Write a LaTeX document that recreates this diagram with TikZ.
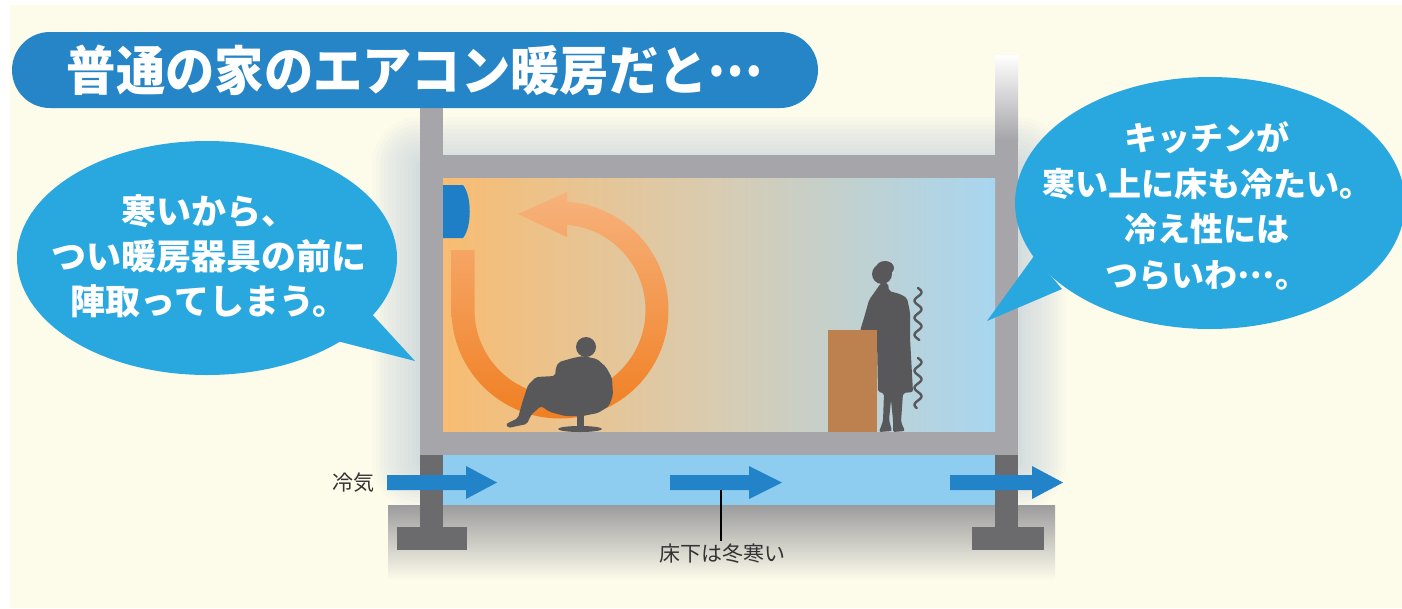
\documentclass[tikz,border=0pt]{standalone}
\usepackage{fontspec}
\newfontfamily\jp{Noto Sans CJK JP}
\newfontfamily\jpnarrow[FakeStretch=0.93]{Noto Sans CJK JP}
\usetikzlibrary{shapes.geometric}
\newcommand{\middots}{\raisebox{0.26em}{…}}
\definecolor{cream}{HTML}{FDFBEA}
\definecolor{titleblue}{HTML}{2585C7}
\definecolor{bubble}{HTML}{29A8E0}
\definecolor{beam}{HTML}{A6A6AA}
\definecolor{footing}{HTML}{6B6B6E}
\definecolor{ufblue}{HTML}{8ECDF0}
\definecolor{airblue}{HTML}{2383C9}
\definecolor{roomL}{HTML}{F8BC72}
\definecolor{roomM}{HTML}{D8CCB2}
\definecolor{roomR}{HTML}{A8D6F0}
\definecolor{acblue}{HTML}{1F7FC6}
\definecolor{shadow}{HTML}{58585A}
\definecolor{counter}{HTML}{BD8150}
\definecolor{warmD}{HTML}{F07F22}
\definecolor{warmL}{HTML}{F7B27C}
\definecolor{glowc}{HTML}{AFC2D8}
\definecolor{groundg}{HTML}{9C9C9E}
\definecolor{labelc}{HTML}{333333}
\tikzset{
  bubbletext/.style={text=white, align=center, font=\jp\bfseries\fontsize{35}{45}\selectfont},
  smalllabel/.style={text=labelc, font=\jp\fontsize{21}{24}\selectfont, inner sep=0pt},
  airarrow/.style={fill=airblue},
  silhouette/.style={fill=shadow, rounded corners=2pt},
}
\begin{document}
\begin{tikzpicture}[x=1pt,y=-1pt]
\useasboundingbox (0,0) rectangle (1402,608);
\fill[white] (0,0) rectangle (1402,608);
\fill[cream] (10,5) rectangle (1402,608);

% soft halo around the house
\foreach \k [evaluate=\k as \d using 4*\k] in {1,...,12}
  \fill[glowc, opacity=0.05, rounded corners=\d pt]
    ({420-\d},{165-\d}) rectangle ({1018+\d},{462+\d});

% ground
\shade[top color=groundg, bottom color=cream] (388,505) rectangle (1055,580);

% posts, beams and room
\fill[beam] (420,100) rectangle (443,455);
\shade[top color=white, bottom color=beam] (995,55) rectangle (1018,140);
\fill[beam] (995,139) rectangle (1018,455);
\fill[beam] (420,155) rectangle (1018,178);
\shade[left color=roomL, right color=roomR, middle color=roomM] (443,178) rectangle (995,432);
\fill[beam] (420,432) rectangle (1018,455);
\fill[ufblue] (443,455) rectangle (995,505);

% foundations
\fill[footing] (420,455) rectangle (443,528);
\fill[footing] (397,527) rectangle (467,550);
\fill[footing] (995,455) rectangle (1018,528);
\fill[footing] (972,527) rectangle (1044,550);

% air conditioner
\fill[acblue] (443,185) -- (463,185) .. controls (472,196) and (472,227) .. (463,238) -- (443,238) -- cycle;

% warm air loop
\shade[top color=warmL, bottom color=warmD]
  (451.5,250) -- (451.5,310) arc[start angle=180, end angle=-90, radius=108.5]
  -- (567,201.5) -- (567,192) -- (518,214) -- (567,237) -- (567,224.5) -- (560,224.5)
  arc[start angle=-90, end angle=180, radius=85.5] -- (474.5,250) -- cycle;

% seated man in an egg chair
\fill[shadow] (586,347) circle[radius=10];
\fill[silhouette] (559,362) -- (573,358) -- (583,356) -- (597,359) -- (606,367)
  -- (612,378) -- (613,395) -- (609,406) -- (598,413) -- (582,416) -- (565,416)
  -- (550,412) -- (541,406) -- (531,415) -- (527,424) -- (508,428) -- (506,424)
  -- (518,418) -- (523,400) -- (528,385) -- (536,377) -- (555,376) -- (556,367) -- cycle;
\fill[shadow] (577,414) rectangle (584,428);
\fill[shadow] (580,429) ellipse[x radius=22, y radius=3];

% standing woman at the kitchen counter
\fill[shadow] (882,274) circle[radius=10];
\fill[shadow] (885,268) ellipse[x radius=9, y radius=7];
\fill[silhouette] (881,283) -- (888,283) -- (889,291) -- (900,294) -- (907,298)
  -- (910,312) -- (910,338) -- (913,392) -- (903,393) -- (901,422) -- (905,431)
  -- (893,432) -- (893,420) -- (891,400) -- (889,420) -- (892,431) -- (879,432)
  -- (883,421) -- (884,393) -- (878,392) -- (877,340) -- (866,332) -- (860,331)
  -- (864,318) -- (869,300) -- (874,293) -- cycle;
\fill[counter] (828,330) rectangle (877,432);
\draw[shadow, line width=2.4, line cap=round, line join=round, domain=0:52, samples=80]
  plot ({918+3.5*sin(\x/17*360)}, {288+\x});
\draw[shadow, line width=2.4, line cap=round, line join=round, domain=0:50, samples=80]
  plot ({918+3.5*sin(\x/17*360)}, {358+\x});

% cold air under the floor
\fill[airarrow] (387,475) -- (466,475) -- (466,466) -- (497,482.5) -- (466,499) -- (466,490) -- (387,490) -- cycle;
\fill[airarrow] (670,475) -- (749,475) -- (749,466) -- (782,482.5) -- (749,499) -- (749,490) -- (670,490) -- cycle;
\fill[airarrow] (950,475) -- (1032,475) -- (1032,466) -- (1063,482.5) -- (1032,499) -- (1032,490) -- (950,490) -- cycle;
\node[smalllabel] (coldair) at (353,483) {冷気};
\node[smalllabel] (underfloor) at (722,554) {床下は冬寒い};
\coordinate (midarrow) at (721,490);
\draw[black, line width=2] (underfloor.north -| midarrow) ++(0,-3) -- (midarrow);

% speech bubbles
\fill[bubble] (207,258) ellipse[x radius=190, y radius=117];
\fill[bubble] (337,341) -- (415,361) -- (370,312) -- cycle;
\node[bubbletext] (leftsay) at (209,256) {寒いから、\\つい暖房器具の前に\\陣取ってしまう。};

\fill[bubble] (1210,203) ellipse[x radius=195, y radius=126];
\fill[bubble] (1034,256) -- (987,321) -- (1062,289) -- cycle;
\node[bubbletext, font=\jp\bfseries\fontsize{33}{45.5}\selectfont] (rightsay) at (1207,206)
  {キッチンが\\寒い上に床も冷たい。\\冷え性には\\つらいわ\middots 。};

% heading
\node[fill=titleblue, rounded corners=38pt, minimum width=806pt, minimum height=76pt,
      text=white, font=\jpnarrow\bfseries\fontsize{53}{60}\selectfont] (title) at (415,70)
  {普通の家のエアコン暖房だと\middots};
\end{tikzpicture}
\end{document}
